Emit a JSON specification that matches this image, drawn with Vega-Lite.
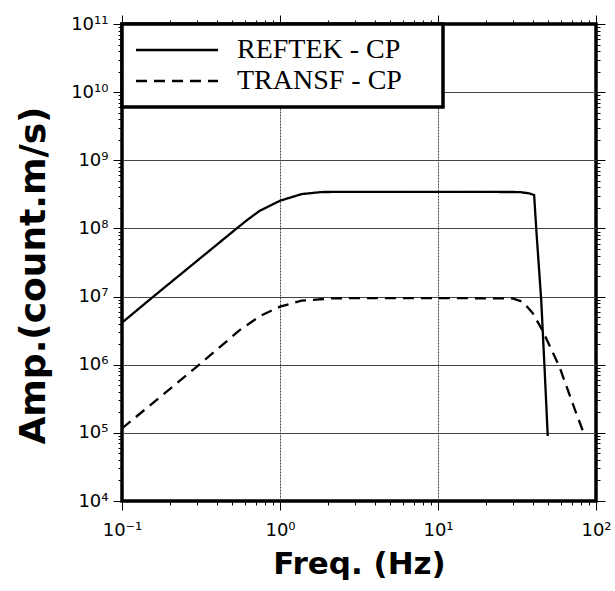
{
  "$schema": "https://vega.github.io/schema/vega-lite/v6.json",
  "width": 474,
  "height": 477,
  "autosize": {"type": "none"},
  "padding": {"left": 122, "top": 24, "right": 19, "bottom": 90},
  "background": "white",
  "config": {
    "view": {"stroke": "black", "strokeWidth": 3.5},
    "axis": {"labelColor": "black", "tickColor": "black", "titleColor": "black", "domain": false}
  },
  "data": {
    "values": [
      {"series": "REFTEK - CP", "freq": 0.1, "amp": 4.14e6},
      {"series": "REFTEK - CP", "freq": 0.158, "amp": 1.0e7},
      {"series": "REFTEK - CP", "freq": 0.532, "amp": 1.0e8},
      {"series": "REFTEK - CP", "freq": 0.62, "amp": 1.33e8},
      {"series": "REFTEK - CP", "freq": 0.74, "amp": 1.8e8},
      {"series": "REFTEK - CP", "freq": 1.0, "amp": 2.55e8},
      {"series": "REFTEK - CP", "freq": 1.37, "amp": 3.19e8},
      {"series": "REFTEK - CP", "freq": 1.83, "amp": 3.42e8},
      {"series": "REFTEK - CP", "freq": 3.0, "amp": 3.45e8},
      {"series": "REFTEK - CP", "freq": 10, "amp": 3.45e8},
      {"series": "REFTEK - CP", "freq": 32.7, "amp": 3.42e8},
      {"series": "REFTEK - CP", "freq": 37.9, "amp": 3.27e8},
      {"series": "REFTEK - CP", "freq": 40.6, "amp": 3.09e8},
      {"series": "REFTEK - CP", "freq": 41.9, "amp": 9.5e7},
      {"series": "REFTEK - CP", "freq": 45.0, "amp": 8.9e6},
      {"series": "REFTEK - CP", "freq": 47.2, "amp": 9.4e5},
      {"series": "REFTEK - CP", "freq": 49.5, "amp": 9.0e4},
      {"series": "TRANSF - CP", "freq": 0.1, "amp": 1.16e5},
      {"series": "TRANSF - CP", "freq": 0.298, "amp": 9.4e5},
      {"series": "TRANSF - CP", "freq": 0.558, "amp": 3.24e6},
      {"series": "TRANSF - CP", "freq": 0.75, "amp": 5.2e6},
      {"series": "TRANSF - CP", "freq": 1.0, "amp": 7.1e6},
      {"series": "TRANSF - CP", "freq": 1.37, "amp": 8.7e6},
      {"series": "TRANSF - CP", "freq": 2.12, "amp": 9.4e6},
      {"series": "TRANSF - CP", "freq": 3.0, "amp": 9.5e6},
      {"series": "TRANSF - CP", "freq": 10, "amp": 9.5e6},
      {"series": "TRANSF - CP", "freq": 29.6, "amp": 9.4e6},
      {"series": "TRANSF - CP", "freq": 34.3, "amp": 8.4e6},
      {"series": "TRANSF - CP", "freq": 39.8, "amp": 5.7e6},
      {"series": "TRANSF - CP", "freq": 45.8, "amp": 3.2e6},
      {"series": "TRANSF - CP", "freq": 58.7, "amp": 9.3e5},
      {"series": "TRANSF - CP", "freq": 74.9, "amp": 1.95e5},
      {"series": "TRANSF - CP", "freq": 84.5, "amp": 9.3e4}
    ]
  },
  "layer": [
    {
      "mark": {"type": "line", "color": "black", "strokeWidth": 2.3, "clip": true},
      "encoding": {
        "x": {
          "field": "freq", "type": "quantitative",
          "scale": {"type": "log", "domain": [0.1, 100], "nice": false},
          "axis": {
            "orient": "bottom",
            "values": [0.1,0.2,0.3,0.4,0.5,0.6,0.7,0.8,0.9,1,2,3,4,5,6,7,8,9,10,20,30,40,50,60,70,80,90,100],
            "labelExpr": "datum.value == 0.1 ? '10⁻¹' : datum.value == 1 ? '10⁰' : datum.value == 10 ? '10¹' : datum.value == 100 ? '10²' : ''",
            "labelFont": "DejaVu Sans", "labelFontSize": 18, "labelPadding": 11,
            "labelOverlap": false, "labelBound": false, "labelFlush": false,
            "tickSize": {"condition": {"test": "datum.value == 0.1 || datum.value == 1 || datum.value == 10 || datum.value == 100", "value": 9}, "value": 4},
            "tickWidth": 1,
            "grid": true, "gridColor": "#444", "gridDash": [2, 1], "gridWidth": 1,
            "gridOpacity": {"condition": {"test": "datum.value == 1 || datum.value == 10", "value": 1}, "value": 0},
            "title": "Freq. (Hz)", "titleFont": "DejaVu Sans", "titleFontSize": 31, "titleFontWeight": "bold", "titlePadding": 10
          }
        },
        "y": {
          "field": "amp", "type": "quantitative",
          "scale": {"type": "log", "domain": [1e4, 1e11], "nice": false},
          "axis": {
            "orient": "left",
            "values": [1e4,2e4,3e4,4e4,5e4,6e4,7e4,8e4,9e4,1e5,2e5,3e5,4e5,5e5,6e5,7e5,8e5,9e5,1e6,2e6,3e6,4e6,5e6,6e6,7e6,8e6,9e6,1e7,2e7,3e7,4e7,5e7,6e7,7e7,8e7,9e7,1e8,2e8,3e8,4e8,5e8,6e8,7e8,8e8,9e8,1e9,2e9,3e9,4e9,5e9,6e9,7e9,8e9,9e9,1e10,2e10,3e10,4e10,5e10,6e10,7e10,8e10,9e10,1e11],
            "labelExpr": "datum.value == 1e4 ? '10⁴' : datum.value == 1e5 ? '10⁵' : datum.value == 1e6 ? '10⁶' : datum.value == 1e7 ? '10⁷' : datum.value == 1e8 ? '10⁸' : datum.value == 1e9 ? '10⁹' : datum.value == 1e10 ? '10¹⁰' : datum.value == 1e11 ? '10¹¹' : ''",
            "labelFont": "DejaVu Sans", "labelFontSize": 18, "labelPadding": 5,
            "labelOverlap": false, "labelBound": false, "labelFlush": false,
            "tickSize": {"condition": {"test": "datum.value == 1e4 || datum.value == 1e5 || datum.value == 1e6 || datum.value == 1e7 || datum.value == 1e8 || datum.value == 1e9 || datum.value == 1e10 || datum.value == 1e11", "value": 9}, "value": 4},
            "tickWidth": 1,
            "grid": true, "gridColor": "#444", "gridWidth": 1,
            "gridOpacity": {"condition": {"test": "datum.value == 1e5 || datum.value == 1e6 || datum.value == 1e7 || datum.value == 1e8 || datum.value == 1e9 || datum.value == 1e10", "value": 1}, "value": 0},
            "title": "Amp.(count.m/s)", "titleFont": "DejaVu Sans", "titleFontSize": 36, "titleFontWeight": "bold", "titlePadding": 18, "titleY": 251
          }
        },
        "strokeDash": {
          "field": "series", "type": "nominal",
          "scale": {"domain": ["REFTEK - CP", "TRANSF - CP"], "range": [[1, 0], [11, 7]]},
          "legend": {
            "orient": "top-left", "offset": 0, "title": null, "padding": 12,
            "fillColor": "white", "strokeColor": "black",
            "symbolType": "M-4.1,0L4.1,0M24.9,0", "symbolSize": 400, "symbolStrokeWidth": 2.3, "symbolStrokeColor": "black",
            "symbolOffset": 29, "labelOffset": 46, "rowPadding": 3,
            "labelFont": "Liberation Serif", "labelFontSize": 28, "labelColor": "black", "labelLimit": 400,
            "encode": {
              "legend": {"update": {"strokeWidth": {"value": 3.5}}},
              "symbols": {"update": {"strokeDash": {"signal": "datum.value == 'TRANSF - CP' ? [26, 10] : [1, 0]"}}}
            }
          }
        }
      }
    },
    {
      "mark": {"type": "point", "opacity": 0},
      "encoding": {
        "x": {
          "field": "freq", "type": "quantitative",
          "axis": {
            "orient": "top", "labels": false, "title": null, "grid": false,
            "values": [0.1,0.2,0.3,0.4,0.5,0.6,0.7,0.8,0.9,1,2,3,4,5,6,7,8,9,10,20,30,40,50,60,70,80,90,100],
            "tickSize": {"condition": {"test": "datum.value == 0.1 || datum.value == 1 || datum.value == 10 || datum.value == 100", "value": 9}, "value": 4},
            "tickWidth": 1
          }
        },
        "y": {
          "field": "amp", "type": "quantitative",
          "axis": {
            "orient": "right", "labels": false, "title": null, "grid": false,
            "values": [1e4,2e4,3e4,4e4,5e4,6e4,7e4,8e4,9e4,1e5,2e5,3e5,4e5,5e5,6e5,7e5,8e5,9e5,1e6,2e6,3e6,4e6,5e6,6e6,7e6,8e6,9e6,1e7,2e7,3e7,4e7,5e7,6e7,7e7,8e7,9e7,1e8,2e8,3e8,4e8,5e8,6e8,7e8,8e8,9e8,1e9,2e9,3e9,4e9,5e9,6e9,7e9,8e9,9e9,1e10,2e10,3e10,4e10,5e10,6e10,7e10,8e10,9e10,1e11],
            "tickSize": {"condition": {"test": "datum.value == 1e4 || datum.value == 1e5 || datum.value == 1e6 || datum.value == 1e7 || datum.value == 1e8 || datum.value == 1e9 || datum.value == 1e10 || datum.value == 1e11", "value": 9}, "value": 4},
            "tickWidth": 1
          }
        }
      }
    }
  ],
  "resolve": {"axis": {"x": "independent", "y": "independent"}}
}
